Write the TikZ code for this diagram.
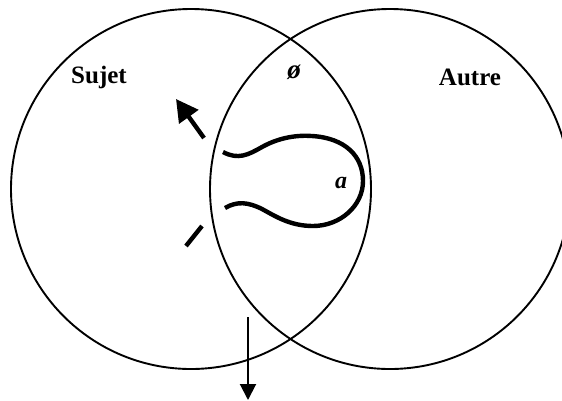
\documentclass[tikz,border=0pt]{standalone}
\usepackage{fontspec}
\setmainfont{Liberation Serif}
\usetikzlibrary{arrows.meta}
\begin{document}
\begin{tikzpicture}[x=1pt,y=-1pt,
  ring/.style={line width=1.9pt},
  loopline/.style={line width=4.4pt},
  lbl/.style={font=\fontsize{25}{25}\selectfont\bfseries, inner sep=0pt},
  ilbl/.style={font=\fontsize{24}{24}\selectfont\bfseries\itshape, inner sep=0pt}]
\useasboundingbox (0,0) rectangle (562,400);
\draw[ring] (191,189) circle[radius=180];
\draw[ring] (390,189) circle[radius=180];
\node[lbl] (sujet) at (99,77) {Sujet};
\node[lbl] (autre) at (470,77) {Autre};
\node[ilbl, font=\fontsize{27}{27}\selectfont\bfseries\itshape] (vide) at (294,72) {ø};
\node[ilbl] (a) at (341,183) {a};
\draw[loopline] (223,152) .. controls (238,160) and (248,155) .. (262,147)
  .. controls (280,137) and (298,135) .. (312,136)
  .. controls (345,138) and (363,156) .. (363,181)
  .. controls (363,206) and (340,226) .. (313,226)
  .. controls (290,226) and (275,216) .. (262,209)
  .. controls (248,202) and (237,201) .. (225,208);
\coordinate (t1) at (204,138);
\coordinate (t2) at (176,99);
\draw[line width=4.4pt, -{Triangle[length=22pt,width=23pt]}] (t1) -- (t2);
\coordinate (d1) at (202,226);
\coordinate (d2) at (186,246);
\draw[line width=4.4pt] (d1) -- (d2);
\coordinate (b1) at (248,317);
\coordinate (b2) at (248,400);
\draw[line width=2pt, -{Triangle[length=16pt,width=16pt]}] (b1) -- (b2);
\end{tikzpicture}
\end{document}
